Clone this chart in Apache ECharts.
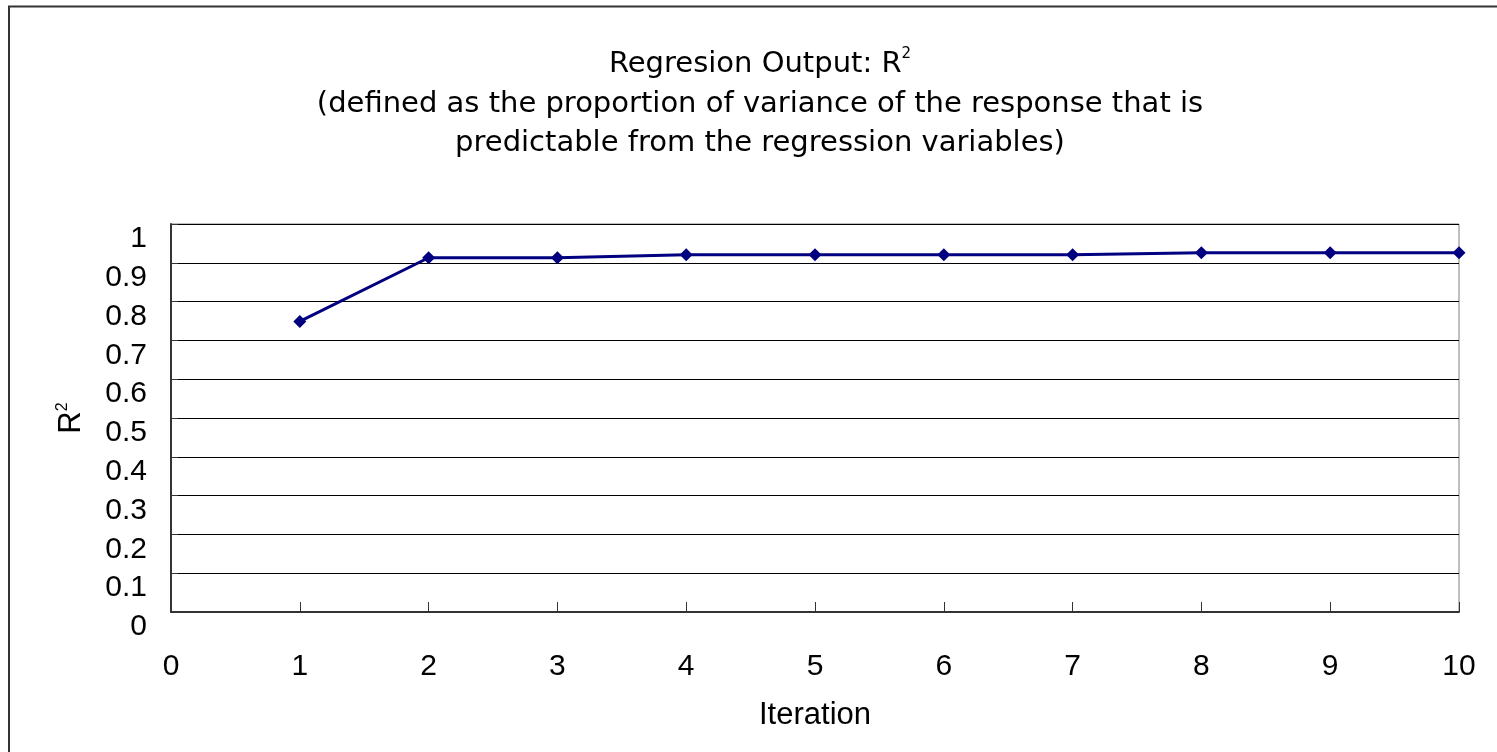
<!DOCTYPE html>
<html>
<head>
<meta charset="utf-8">
<script src="https://cdn.jsdelivr.net/npm/echarts@6/dist/echarts.min.js"></script>
<style>
  html, body { margin: 0; padding: 0; background: #fff; }
  #chart { width: 1497px; height: 752px; }
</style>
</head>
<body>
<div id="chart"></div>
<script>
var iterations = [1, 2, 3, 4, 5, 6, 7, 8, 9, 10];
var rSquared = [0.749, 0.913, 0.913, 0.921, 0.921, 0.921, 0.921, 0.926, 0.926, 0.926];
var titleLine = 'Regresion Output: R';
var subLines = '(defined as the proportion of variance of the response that is\npredictable from the regression variables)';

var font = 'Liberation Sans';
var titleFont = 'DejaVu Sans';
var points = [];
for (var i = 0; i < iterations.length; i++) {
    points.push([iterations[i], rSquared[i]]);
}

var myChart = echarts.init(document.getElementById('chart'));
var option = {
    backgroundColor: '#fff',
    animation: false,
    title: {
        left: 755,
        top: 42,
        textAlign: 'center',
        text: '{t|' + titleLine + '}{s|2}',
        subtext: subLines,
        itemGap: 6,
        textStyle: {
            fontWeight: 'normal',
            rich: {
                t: { fontFamily: titleFont, fontSize: 29, fontWeight: 'normal', color: '#000' },
                s: { fontFamily: titleFont, fontSize: 15, fontWeight: 'normal', color: '#000', verticalAlign: 'top', padding: [0, 0, 20, 0] }
            }
        },
        subtextStyle: { fontFamily: titleFont, fontSize: 29, color: '#000', lineHeight: 39 }
    },
    graphic: [{
        type: 'rect',
        shape: { x: 9, y: 6.5, width: 1600, height: 900 },
        style: { fill: 'none', stroke: '#333', lineWidth: 2 },
        silent: true
    }],
    grid: {
        left: 171, right: 38, top: 224, bottom: 140,
        show: true, borderColor: '#808080', borderWidth: 1
    },
    xAxis: {
        type: 'value',
        min: 0, max: 10, interval: 1,
        name: 'Iteration',
        nameLocation: 'middle',
        nameGap: 88,
        nameTextStyle: { fontFamily: font, fontSize: 31, color: '#000' },
        axisLine: { lineStyle: { color: '#333', width: 2 } },
        axisTick: { inside: true, length: 10, lineStyle: { color: '#333' } },
        axisLabel: { margin: 40, fontFamily: font, fontSize: 30, color: '#000' },
        splitLine: { show: false }
    },
    yAxis: {
        type: 'value',
        min: 0, max: 1, interval: 0.1,
        name: '{t|R}{s|2}',
        nameLocation: 'middle',
        nameRotate: 90,
        nameGap: 84,
        nameTextStyle: {
            rich: {
                t: { fontFamily: font, fontSize: 31, color: '#000' },
                s: { fontFamily: font, fontSize: 16, color: '#000', verticalAlign: 'top', padding: [0, 0, 16, 0] }
            }
        },
        axisLine: { show: true, lineStyle: { color: '#333', width: 2 } },
        axisTick: { show: true, inside: true, length: 7, lineStyle: { color: '#333' } },
        axisLabel: { margin: 24, verticalAlign: 'top', fontFamily: font, fontSize: 30, color: '#000' },
        splitLine: { lineStyle: { color: '#000', width: 1 } }
    },
    series: [{
        type: 'line',
        data: points,
        symbol: 'diamond',
        symbolSize: 13,
        itemStyle: { color: '#000080' },
        lineStyle: { color: '#000080', width: 3 }
    }]
};
option && myChart.setOption(option);
</script>
</body>
</html>
